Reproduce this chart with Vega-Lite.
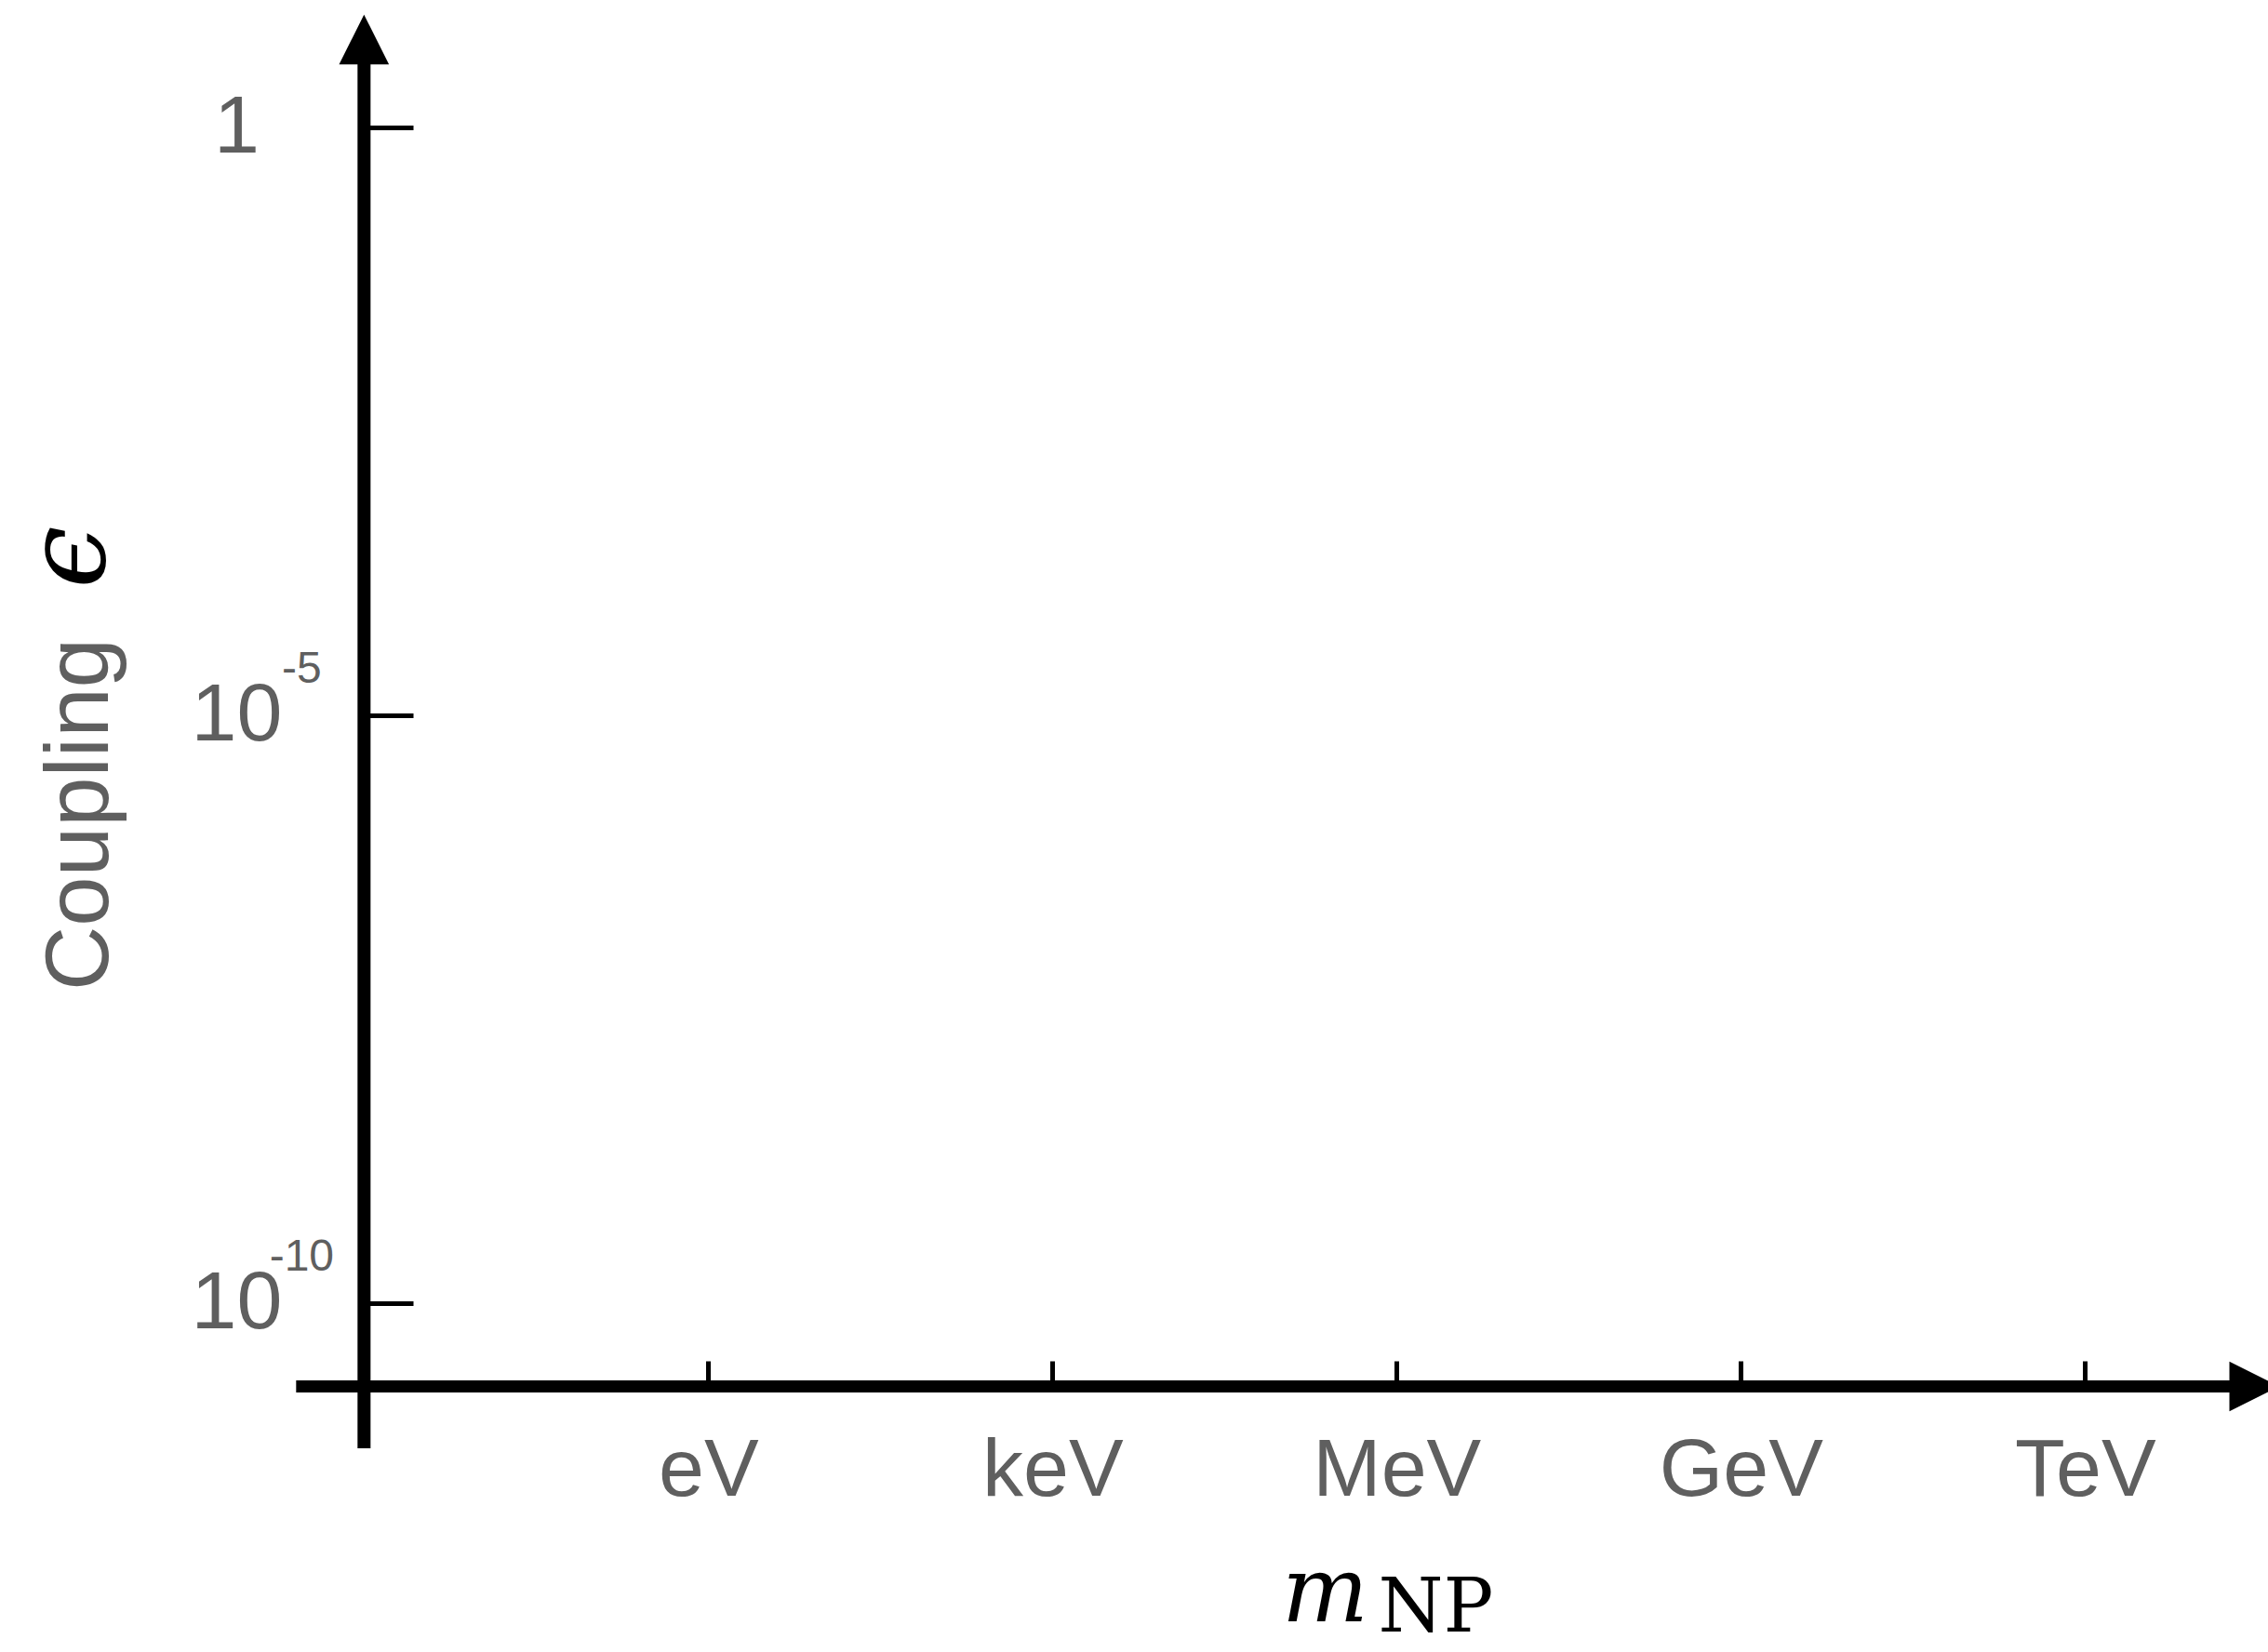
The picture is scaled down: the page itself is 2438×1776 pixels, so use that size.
{
  "$schema": "https://vega.github.io/schema/vega-lite/v6.json",
  "width": 2170,
  "height": 1580,
  "autosize": {"type": "none"},
  "padding": {"left": 268, "top": 11, "right": 0, "bottom": 185},
  "background": "#ffffff",
  "config": {"view": {"stroke": null}, "axis": {"grid": false, "domain": false}},
  "datasets": {
    "couplings": [
      {"exponent": 0, "sup": ""},
      {"exponent": -5, "sup": "-5"},
      {"exponent": -10, "sup": "-10"}
    ]
  },
  "layer": [
    {
      "data": {"values": [{"axis": "mass"}]},
      "mark": {"type": "rule", "color": "black", "strokeWidth": 13, "strokeCap": "butt"},
      "encoding": {
        "x": {
          "datum": -3.592, "type": "quantitative",
          "scale": {"domain": [-4, 13.595], "nice": false, "zero": false},
          "axis": {
            "values": [0, 3, 6, 9, 12],
            "labelExpr": "['eV','keV','MeV','GeV','TeV'][round(datum.value/3)]",
            "domain": false, "grid": false, "offset": -100,
            "tickSize": -28, "tickWidth": 5, "tickColor": "black",
            "labelPadding": 144, "labelBaseline": "alphabetic", "labelAlign": "center",
            "labelFont": "Liberation Sans", "labelFontSize": 88, "labelColor": "#5f5f5f",
            "labelOverlap": false, "labelFlush": false, "labelLimit": 0,
            "title": null
          }
        },
        "x2": {"datum": 13.47},
        "y": {"datum": -10.705, "type": "quantitative", "scale": {"domain": [-11.5, 1], "nice": false, "zero": false}}
      }
    },
    {
      "data": {"values": [{"axis": "coupling"}]},
      "mark": {"type": "rule", "color": "black", "strokeWidth": 14, "strokeCap": "butt"},
      "encoding": {
        "x": {"datum": -3, "type": "quantitative", "scale": {"domain": [-4, 13.595], "nice": false, "zero": false}},
        "y": {
          "datum": -11.231, "type": "quantitative",
          "scale": {"domain": [-11.5, 1], "nice": false, "zero": false},
          "axis": {
            "values": [0, -5, -10],
            "labelExpr": "datum.value == 0 ? '1' : '10'",
            "domain": false, "grid": false, "offset": -123,
            "tickSize": -53, "tickWidth": 5, "tickColor": "black",
            "labelPadding": 190, "labelAlign": "center", "labelBaseline": "middle",
            "labelFont": "Liberation Sans", "labelFontSize": 88, "labelColor": "#5f5f5f",
            "labelOverlap": false, "labelFlush": false, "labelLimit": 0,
            "title": "Coupling", "titleFont": "Liberation Sans", "titleFontSize": 96,
            "titleFontWeight": "normal", "titleColor": "#5f5f5f",
            "titleAngle": 270, "titleAlign": "center", "titleBaseline": "alphabetic",
            "titleX": -276, "titleY": 864, "titleLimit": 0
          }
        },
        "y2": {"datum": 0.75}
      }
    },
    {
      "data": {"values": [{"axis": "coupling"}]},
      "mark": {"type": "point", "shape": "M0,-1L1,1L-1,1Z", "filled": true, "size": 2880, "color": "black", "opacity": 1, "strokeWidth": 0},
      "encoding": {
        "x": {"datum": -3, "type": "quantitative"},
        "y": {"datum": 0.751, "type": "quantitative"}
      }
    },
    {
      "data": {"values": [{"axis": "mass"}]},
      "mark": {"type": "point", "shape": "M1,0L-1,-1L-1,1Z", "filled": true, "size": 2880, "color": "black", "opacity": 1, "strokeWidth": 0},
      "encoding": {
        "x": {"datum": 13.476, "type": "quantitative"},
        "y": {"datum": -10.705, "type": "quantitative"}
      }
    },
    {
      "data": {"name": "couplings"},
      "mark": {"type": "text", "font": "Liberation Sans", "fontSize": 48, "color": "#5f5f5f", "align": "center", "baseline": "alphabetic", "dy": -35},
      "encoding": {
        "x": {"datum": -3.543, "type": "quantitative"},
        "y": {"field": "exponent", "type": "quantitative"},
        "text": {"field": "sup"}
      }
    },
    {
      "data": {"values": [{"symbol": "ϵ"}]},
      "mark": {"type": "text", "font": "DejaVu Serif", "fontStyle": "italic", "fontSize": 120, "color": "black", "angle": 270, "align": "center", "baseline": "alphabetic"},
      "encoding": {
        "x": {"datum": -5.262, "type": "quantitative"},
        "y": {"datum": -3.652, "type": "quantitative"},
        "text": {"field": "symbol"}
      }
    },
    {
      "data": {"values": [{"symbol": "m"}]},
      "mark": {"type": "text", "font": "DejaVu Serif", "fontStyle": "italic", "fontSize": 98, "color": "black", "align": "left", "baseline": "alphabetic"},
      "encoding": {
        "x": {"datum": 5.0, "type": "quantitative"},
        "y": {"datum": -12.7, "type": "quantitative"},
        "text": {"field": "symbol"}
      }
    },
    {
      "data": {"values": [{"symbol": "NP"}]},
      "mark": {"type": "text", "font": "DejaVu Serif", "fontSize": 80, "color": "black", "align": "left", "baseline": "alphabetic"},
      "encoding": {
        "x": {"datum": 5.84, "type": "quantitative"},
        "y": {"datum": -12.79, "type": "quantitative"},
        "text": {"field": "symbol"}
      }
    }
  ]
}
